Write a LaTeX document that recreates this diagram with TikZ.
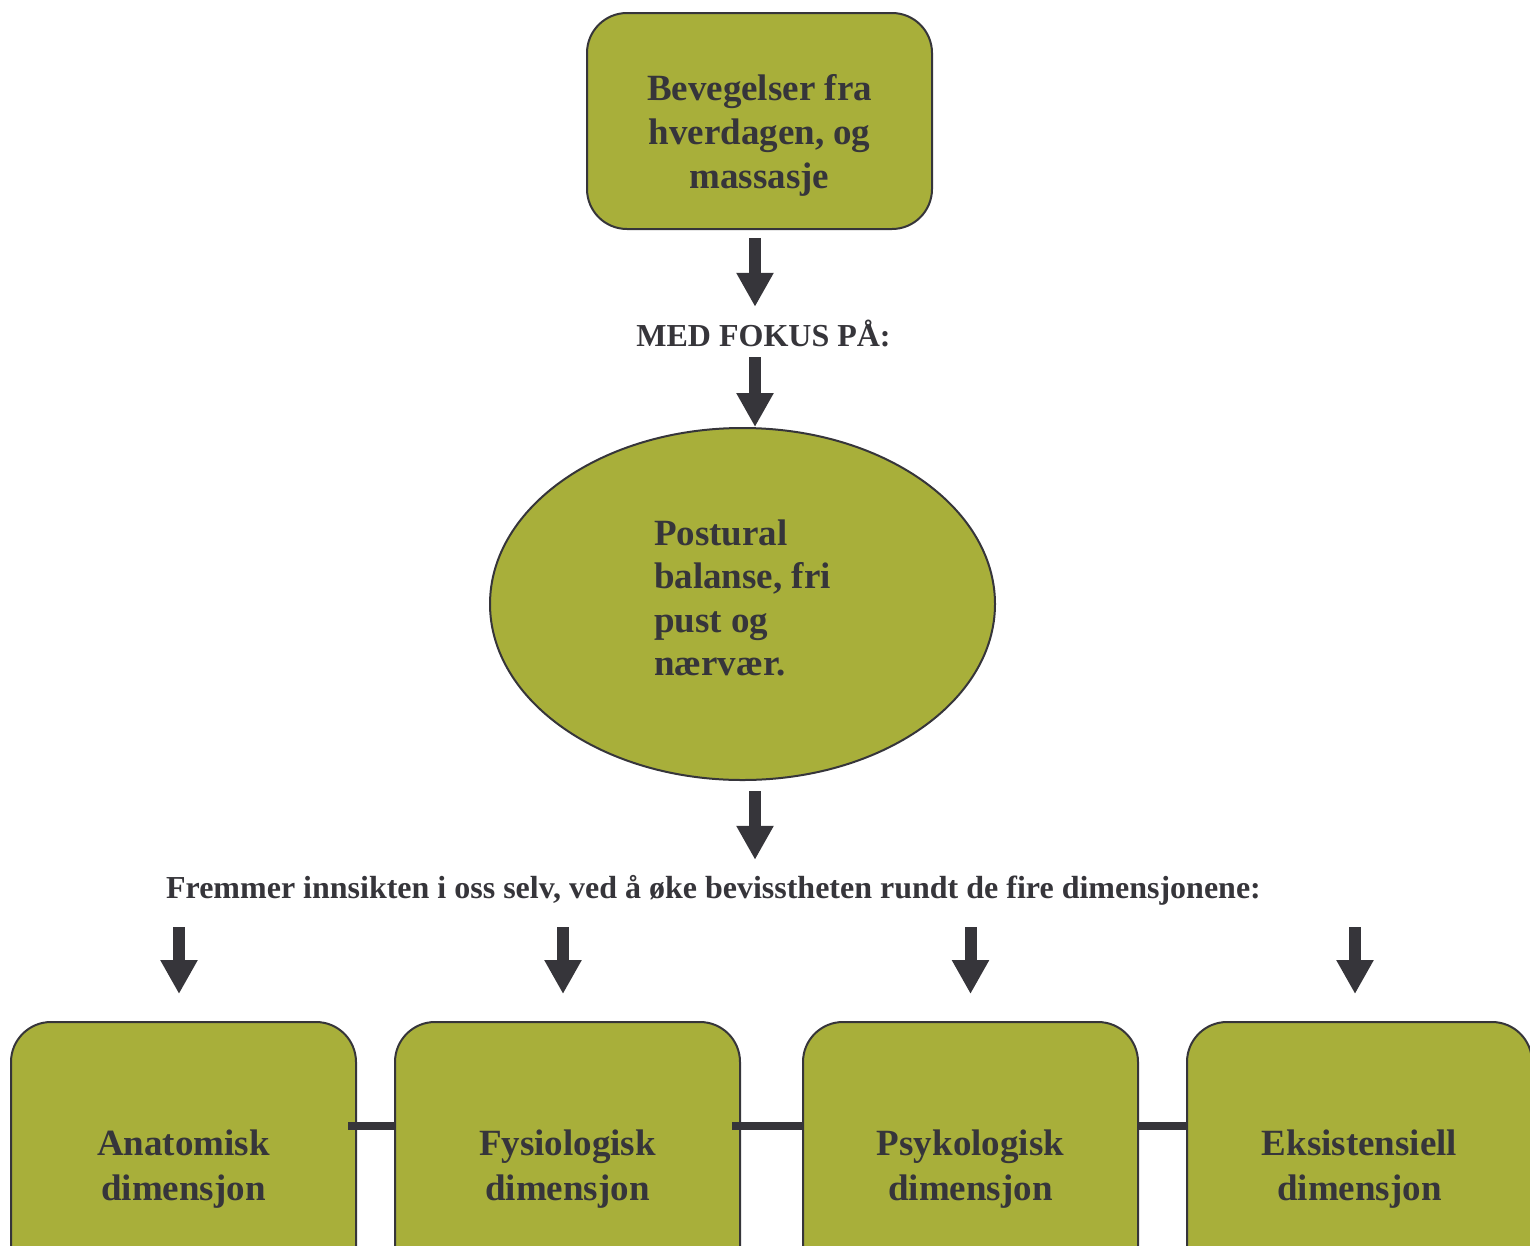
\documentclass[tikz,border=0pt]{standalone}
\usepackage{fontspec}
\setmainfont{Liberation Serif}
\usetikzlibrary{positioning, arrows.meta, shapes.geometric}
\definecolor{olive}{HTML}{A8AF3A}
\definecolor{ink}{HTML}{36353A}

\begin{document}
\begin{tikzpicture}[x=1pt, y=-1pt,
    box/.style={draw=ink, line width=2pt, fill=olive, rounded corners=40pt, align=center, text=ink, font=\fontsize{37}{44}\selectfont\bfseries},
    dimbox/.style={box, minimum height=278pt, text height=87pt, text depth=8pt, font=\fontsize{37}{45}\selectfont\bfseries},
    oval/.style={draw=ink, line width=2pt, fill=olive, ellipse, align=left, text=ink, inner sep=0pt, font=\fontsize{37}{43.5}\selectfont\bfseries},
    caption/.style={text=ink, inner sep=0pt, text height=24pt, text depth=7pt, font=\fontsize{32}{38}\selectfont\bfseries},
    blockarr/.style={-{Triangle[length=34pt, width=35pt]}, line width=12pt, ink},
    link/.style={line width=8pt, ink}
]
\useasboundingbox (0,0) rectangle (1530,1245);

% Top box
\node[box, minimum width=345pt, minimum height=216pt, text height=143pt, text depth=8pt] (top) at (759.5,121) {Bevegelser fra\\hverdagen, og\\massasje};
\node[caption, anchor=base] (fokus) at (763.5,346) {MED FOKUS PÅ:};

% Ellipse
\node[oval, minimum width=505pt, minimum height=352pt, text height=155pt, text depth=12pt] (ell) at (742.5,604) {Postural\\balanse, fri\\pust og\\nærvær.};
\node[caption, anchor=base] (insight) at (713.5,898) {Fremmer innsikten i oss selv, ved å øke bevisstheten rundt de fire dimensjonene:};

% Dimensions
\node[dimbox, minimum width=345pt] (anat) at (183.5,1161) {Anatomisk\\dimensjon};
\node[dimbox, minimum width=345pt] (fys) at (567.5,1161) {Fysiologisk\\dimensjon};
\node[dimbox, minimum width=335pt] (psyk) at (970.5,1161) {Psykologisk\\dimensjon};
\node[dimbox, minimum width=345pt] (eks) at (1359.5,1161) {Eksistensiell\\dimensjon};

% Arrows down the middle
\draw[blockarr, shorten <=8pt, shorten >=15pt] ([xshift=-4.5pt]top.south) -- ([xshift=-4.5pt]top.south |- fokus.north);
\draw[blockarr, shorten <=4pt] ([xshift=-8.5pt]fokus.south) -- ([xshift=-8.5pt]fokus.south |- ell.north);
\draw[blockarr, shorten <=10pt, shorten >=14pt] ([xshift=12.5pt]ell.south) -- ([xshift=12.5pt]ell.south |- insight.north);

% Arrows to the dimensions
\draw[blockarr, shorten <=22pt, shorten >=27pt] (insight.south -| anat.north) ++(-4.5pt,0) -- ([xshift=-4.5pt]anat.north);
\draw[blockarr, shorten <=22pt, shorten >=27pt] (insight.south -| fys.north) ++(-4.5pt,0) -- ([xshift=-4.5pt]fys.north);
\draw[blockarr, shorten <=22pt, shorten >=27pt] (insight.south -| psyk.north) -- (psyk.north);
\draw[blockarr, shorten <=22pt, shorten >=27pt] (insight.south -| eks.north) ++(-4.5pt,0) -- ([xshift=-4.5pt]eks.north);

% Links between the dimensions
\draw[link] ([yshift=35pt, xshift=-9pt]anat.east) -- ([yshift=35pt]fys.west);
\draw[link] ([yshift=35pt, xshift=-9pt]fys.east) -- ([yshift=35pt]psyk.west);
\draw[link] ([yshift=35pt]psyk.east) -- ([yshift=35pt]eks.west);

\end{tikzpicture}
\end{document}
